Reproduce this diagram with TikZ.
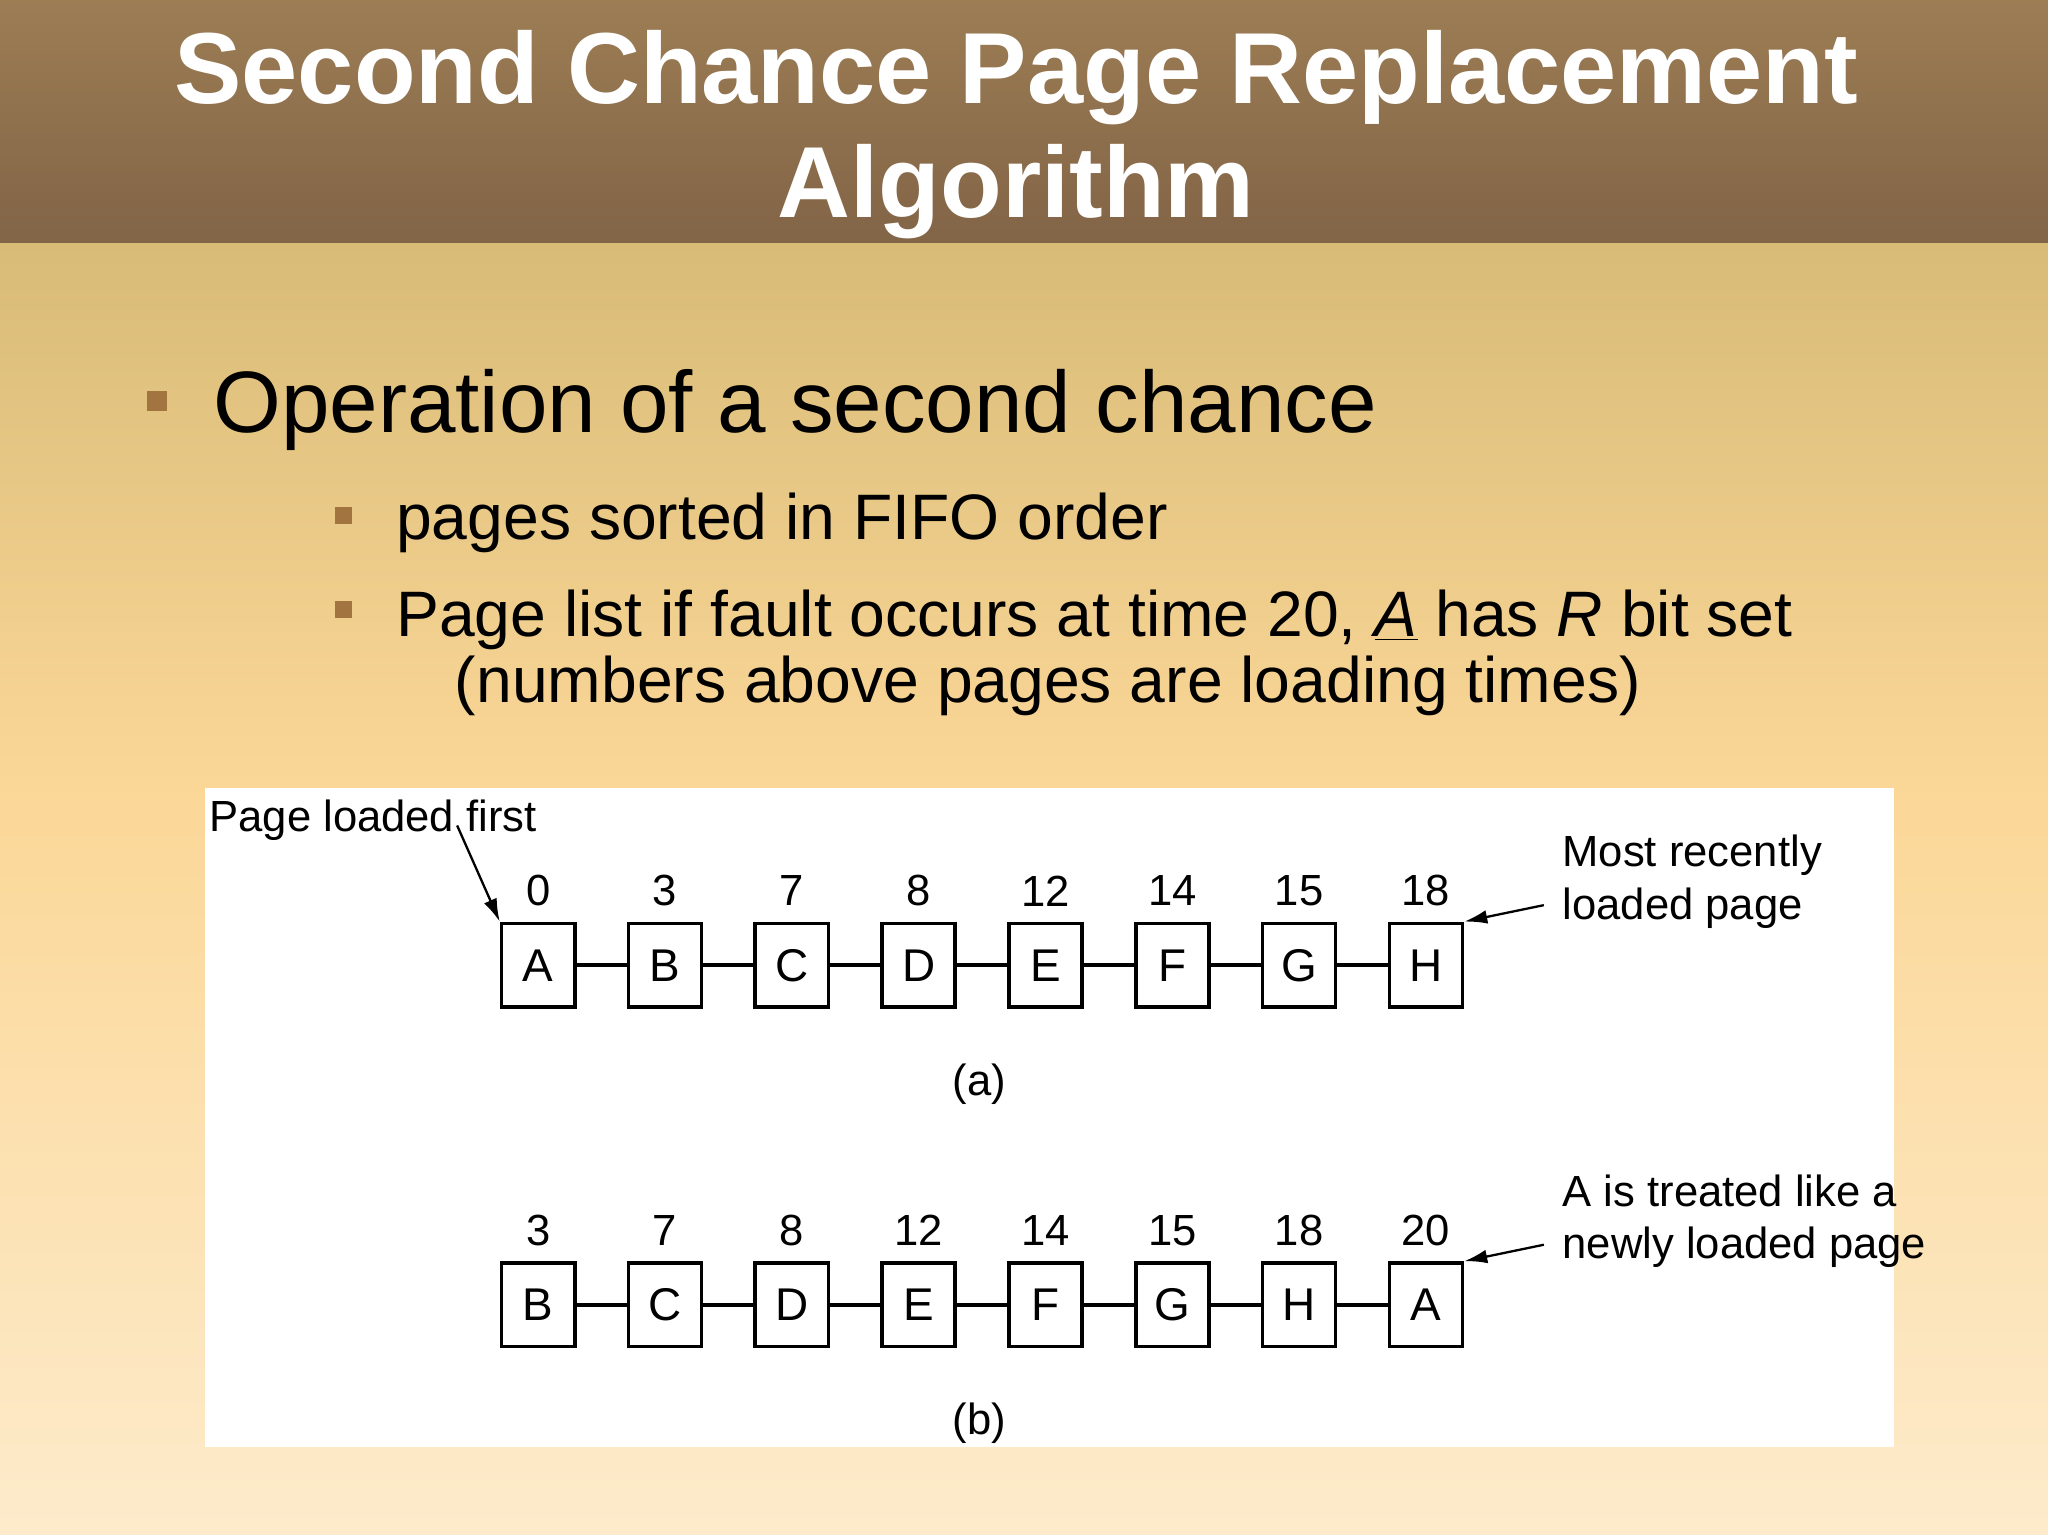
\documentclass[tikz,border=0pt]{standalone}
\usepackage{fontspec}
\setmainfont{Liberation Sans}
\definecolor{hdtop}{HTML}{9C7D54}
\definecolor{hdbot}{HTML}{826447}
\definecolor{bgtop}{HTML}{D8BB77}
\definecolor{bgmid}{HTML}{FBD797}
\definecolor{bgbot}{HTML}{FDEBCB}
\definecolor{bul}{HTML}{A27440}
\tikzset{
 pg/.style={draw,line width=1.6pt,minimum width=1.12cm,minimum height=1.28cm,inner sep=0pt,font=\fontsize{20}{22}\selectfont},
 num/.style={font=\fontsize{19}{22}\selectfont},
 lbl/.style={font=\fontsize{19}{23}\selectfont,anchor=west,inner sep=0pt},
 link/.style={line width=1.6pt},
 arr/.style={line width=1pt,-{Latex[length=10pt,width=6pt]}},
 bsq/.style={fill=bul,minimum size=0.3cm,inner sep=0pt},
}
\usetikzlibrary{arrows.meta}
\begin{document}
\begin{tikzpicture}[x=0.02cm,y=-0.02cm]
\useasboundingbox (0,0) rectangle (1568,1175);
\shade[top color=bgtop,bottom color=bgmid] (0,185) rectangle (1568,600);
\shade[top color=bgmid,bottom color=bgbot] (0,600) rectangle (1568,1176);
\shade[top color=hdtop,bottom color=hdbot] (0,0) rectangle (1568,186);
\node[text=white,font=\fontsize{44}{50}\selectfont\bfseries,align=center] (title) at (778,103) {Second Chance Page Replacement\\Algorithm};
\node[bsq] (b1) at (120,307) {};
\node[anchor=base west,inner sep=0pt,font=\fontsize{38}{44}\selectfont] (t1) at (163,331) {Operation of a second chance};
\node[bsq,minimum size=0.26cm] (b2) at (263,395) {};
\node[anchor=base west,inner sep=0pt,font=\fontsize{28}{34}\selectfont] (t2) at (303,413) {pages sorted in FIFO order};
\node[bsq,minimum size=0.26cm] (b3) at (263,467) {};
\node[anchor=base west,inner sep=0pt,font=\fontsize{28}{34}\selectfont] (t3) at (303,487) {Page list if fault occurs at time 20, \underline{\textit{A}} has \textit{R} bit set};
\node[anchor=base west,inner sep=0pt,font=\fontsize{28}{34}\selectfont] (t4) at (348,538) {(numbers above pages are loading times)};
\fill[white] (157,603) rectangle (1450,1108);
% row a
\foreach \l/\n [count=\i from 0] in {A/0,B/3,C/7,D/8,E/12,F/14,G/15,H/18}{
  \node[pg] (a\i) at (412+97.1*\i,739) {\l};
  \node[num] (na\i) at (412+97.1*\i,682) {\n};
}
\foreach \l/\n [count=\i from 0] in {B/3,C/7,D/8,E/12,F/14,G/15,H/18,A/20}{
  \node[pg] (b\i) at (412+97.1*\i,999) {\l};
  \node[num] (nb\i) at (412+97.1*\i,942) {\n};
}
\foreach \i [evaluate=\i as \j using int(\i+1)] in {0,...,6}{
  \draw[link] (a\i) -- (a\j);
  \draw[link] (b\i) -- (b\j);
}
\node[num] (capa) at (750,830) {(a)};
\node[num] (capb) at (750,1090) {(b)};
\node[lbl] (plf) at (160,628) {Page loaded first};
\node[lbl,align=left] (mrl) at (1196,675) {Most recently\\loaded page};
\node[lbl,align=left] (atr) at (1196,935) {A is treated like a\\newly loaded page};
\coordinate (p1) at (350,632);
\coordinate (p2) at (1182,693);
\coordinate (p3) at (1182,953);
\draw[arr] (p1) -- (a0.north west);
\draw[arr] (p2) -- (a7.north east);
\draw[arr] (p3) -- (b7.north east);
\end{tikzpicture}
\end{document}
